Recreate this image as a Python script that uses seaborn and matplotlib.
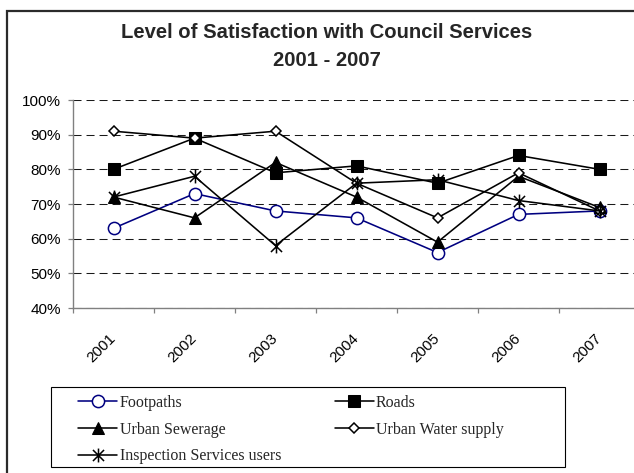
import numpy as np
import pandas as pd
import matplotlib
matplotlib.use("Agg")
import matplotlib.pyplot as plt
from matplotlib.path import Path
from matplotlib.patches import Rectangle
from matplotlib.ticker import PercentFormatter, FixedLocator
import seaborn as sns

# Survey results, share of respondents satisfied
years = ["2001", "2002", "2003", "2004", "2005", "2006", "2007"]
footpaths = [0.63, 0.73, 0.68, 0.66, 0.56, 0.67, 0.68]
roads = [0.80, 0.89, 0.79, 0.81, 0.76, 0.84, 0.80]
urban_sewerage = [0.72, 0.66, 0.82, 0.72, 0.59, 0.78, 0.69]
urban_water = [0.91, 0.89, 0.91, 0.76, 0.66, 0.79, 0.68]
inspection = [0.72, 0.78, 0.58, 0.76, 0.77, 0.71, 0.68]

series_names = ["Footpaths", "Roads", "Urban Sewerage",
                "Urban Water supply", "Inspection Services users"]
series_values = [footpaths, roads, urban_sewerage, urban_water, inspection]
y_ticks = [0.4, 0.5, 0.6, 0.7, 0.8, 0.9, 1.0]

sns.set_theme(style="white")
plt.rcParams["font.family"] = ["Liberation Sans", "DejaVu Sans"]

# star marker: vertical stroke plus a cross
star = Path([(0, -1), (0, 1), (-0.8, -0.8), (0.8, 0.8), (-0.8, 0.8), (0.8, -0.8)],
            [Path.MOVETO, Path.LINETO] * 3)

navy = "#000080"
styles = {
    "Footpaths": dict(color=navy, marker="o", markersize=8.8,
                      markerfacecolor="white", markeredgecolor=navy, markeredgewidth=1.1),
    "Roads": dict(color="black", marker="s", markersize=8.3,
                  markerfacecolor="black", markeredgecolor="black"),
    "Urban Sewerage": dict(color="black", marker="^", markersize=9,
                           markerfacecolor="black", markeredgecolor="black"),
    "Urban Water supply": dict(color="black", marker="D", markersize=5.5,
                               markerfacecolor="white", markeredgecolor="black",
                               markeredgewidth=1.1),
    "Inspection Services users": dict(color="black", marker=star, markersize=10,
                                      markerfacecolor="none", markeredgecolor="black",
                                      markeredgewidth=1.1),
}

df = pd.DataFrame({"year": [y for _ in series_names for y in years],
                   "series": [s for s in series_names for _ in years],
                   "value": [v for vals in series_values for v in vals]})

W, H = 634, 473
fig = plt.figure(figsize=(W / 100, H / 100), dpi=100)
fig.patch.set_facecolor("white")

# plot area in pixel terms: left 73, top 100, bottom 308, 81 px per year
ax = fig.add_axes([73 / W, 1 - 308 / H, 567 / W, 208 / H])
ax.set_facecolor("white")

for name in series_names:
    sub = df[df["series"] == name]
    sns.lineplot(data=sub, x="year", y="value", ax=ax, sort=False,
                 linewidth=1.15, label=name, zorder=3, **styles[name])

ax.set_xlim(-0.5, len(years) - 0.5)
ax.set_ylim(0.4, 1.0)
ax.set_xlabel("")
ax.set_ylabel("")

ax.yaxis.set_major_locator(FixedLocator(y_ticks))
ax.yaxis.set_major_formatter(PercentFormatter(1.0, decimals=0))
ax.set_xticks(range(len(years)))
ax.set_xticklabels(years, rotation=45, ha="right", va="center",
                   rotation_mode="anchor")
ax.set_xticks(np.arange(-0.5, len(years)), minor=True)

ax.tick_params(axis="y", which="major", direction="out", length=3.6, width=0.9,
               color="#808080", pad=5, labelsize=11, labelcolor="black", left=True)
ax.tick_params(axis="x", which="major", length=0, pad=20, labelsize=11,
               labelcolor="black", bottom=True)
ax.tick_params(axis="x", which="minor", direction="out", length=3.6, width=0.9,
               color="#808080", bottom=True)

ax.grid(axis="y", which="major", color="#1a1a1a", linewidth=0.75,
        linestyle=(0, (7.7, 4.8)))
ax.grid(axis="x", visible=False)
ax.set_axisbelow(True)

for side in ["top", "right"]:
    ax.spines[side].set_visible(False)
for side in ["left", "bottom"]:
    ax.spines[side].set_color("#808080")
    ax.spines[side].set_linewidth(1.0)

# title
fig.text(326.5 / W, 1 - 32 / H, "Level of Satisfaction with Council Services",
         ha="center", va="center", fontsize=14.6, fontweight="bold")
fig.text(326.5 / W, 1 - 60 / H, "2001 - 2007",
         ha="center", va="center", fontsize=14.6, fontweight="bold")

# legend: rows Footpaths/Roads, Sewerage/Water, Inspection
handles, labels = ax.get_legend_handles_labels()
lookup = dict(zip(labels, handles))
order = ["Footpaths", "Urban Sewerage", "Inspection Services users",
         "Roads", "Urban Water supply"]
ax.legend([lookup[k] for k in order], order, ncol=2, frameon=False,
          loc="upper left", bbox_to_anchor=(78 / W, 1 - 395 / H),
          bbox_transform=fig.transFigure, borderpad=0, borderaxespad=0,
          handlelength=2.45, handletextpad=0.15, columnspacing=3.35,
          labelspacing=0.67,
          prop={"family": ["Liberation Serif", "DejaVu Serif"], "size": 11.5})

fig.patches.append(Rectangle((51 / W, 1 - 467 / H), (565 - 51) / W, (467 - 386.7) / H,
                             transform=fig.transFigure, fill=False,
                             edgecolor="black", linewidth=0.8))

# chart frame
fig.patches.append(Rectangle((6.7 / W, -0.2), 1.2, 1.2 - 10.7 / H,
                             transform=fig.transFigure, fill=False,
                             edgecolor="#2b2b2b", linewidth=1.6))

fig.savefig("out.png", dpi=100, facecolor="white")
